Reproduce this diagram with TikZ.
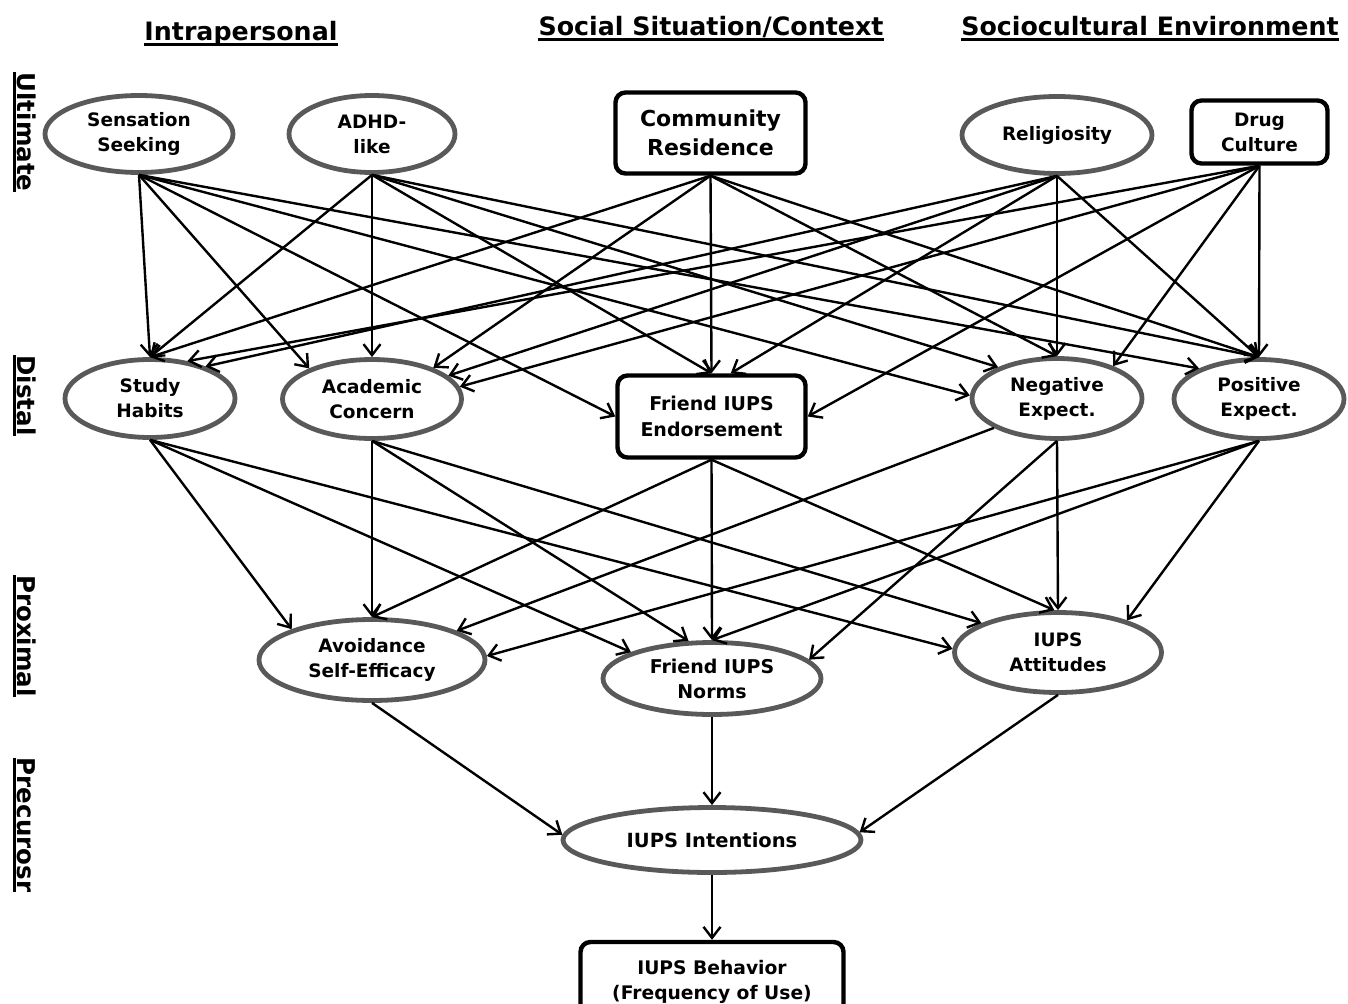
\documentclass[tikz,border=0pt]{standalone}
\usepackage{fontspec}
\setmainfont{DejaVu Sans}
\usetikzlibrary{shapes.geometric,arrows.meta}
\definecolor{ellgray}{RGB}{89,89,89}
\begin{document}
\begin{tikzpicture}[x=1pt,y=-1pt,
  ell/.style={ellipse,draw=ellgray,line width=4.8pt,inner sep=0pt,align=center,
    font=\bfseries\fontsize{18.5}{25}\selectfont},
  box/.style={rectangle,rounded corners=10pt,draw=black,line width=4.4pt,inner sep=0pt,align=center,
    font=\bfseries\fontsize{18.5}{25}\selectfont},
  arr/.style={line width=2.4pt,-{Straight Barb[length=11pt,width=17pt]}},
  head/.style={inner sep=0pt,anchor=base,font=\bfseries\fontsize{25.3}{30}\selectfont},
  side/.style={inner sep=0pt,anchor=base,rotate=-90,font=\bfseries\fontsize{24.5}{30}\selectfont},
  uline/.style={line width=2.8pt}
]
\useasboundingbox (0,0) rectangle (1348,1003);

% headings
\node[head] (h1) at (241,40.5) {Intrapersonal};
\node[head] (h2) at (711,35.5) {Social Situation/Context};
\node[head] (h3) at (1150,35.5) {Sociocultural Environment};
\foreach \h in {h1,h2,h3}
  \draw[uline] ([yshift=-4pt]\h.base west) -- ([yshift=-4pt]\h.base east);

% side labels
\node[side] (l1) at (17.5,132) {Ultimate};
\node[side] (l2) at (17.5,395.5) {Distal};
\node[side] (l3) at (17.5,636) {Proximal};
\node[side] (l4) at (17.5,825) {Precurosr};
\foreach \l in {l1,l2,l3,l4}
  \draw[uline] ([xshift=-3pt]\l.base west) -- ([xshift=-3pt]\l.base east);

% ultimate
\node[ell,minimum width=188pt,minimum height=77pt] (ss) at (139,134) {Sensation\\Seeking};
\node[ell,minimum width=166pt,minimum height=77pt] (adhd) at (372,134) {ADHD-\\like};
\node[box,minimum width=190pt,minimum height=81pt,font=\bfseries\fontsize{22}{29}\selectfont] (com) at (710.5,133) {Community\\Residence};
\node[ell,minimum width=190pt,minimum height=77pt] (rel) at (1057,135) {Religiosity};
\node[box,minimum width=136pt,minimum height=63pt] (drug) at (1259.5,132) {Drug\\Culture};

% distal
\node[ell,minimum width=170pt,minimum height=78pt] (sh) at (150,398.5) {Study\\Habits};
\node[ell,minimum width=179pt,minimum height=79pt] (ac) at (372,399) {Academic\\Concern};
\node[box,minimum width=188pt,minimum height=82pt,font=\bfseries\fontsize{19}{26}\selectfont] (fe) at (711.5,416.5) {Friend IUPS\\Endorsement};
\node[ell,minimum width=170pt,minimum height=80pt] (ne) at (1057,398.5) {Negative\\Expect.};
\node[ell,minimum width=170pt,minimum height=79pt] (pe) at (1259,399) {Positive\\Expect.};

% proximal
\node[ell,minimum width=226pt,minimum height=81pt] (ase) at (372,660) {Avoidance\\Self-Efficacy};
\node[ell,minimum width=218pt,minimum height=72pt,font=\bfseries\fontsize{19}{25}\selectfont] (fn) at (712,678.5) {Friend IUPS\\Norms};
\node[ell,minimum width=207pt,minimum height=80pt] (att) at (1058,652.5) {IUPS\\Attitudes};

% precursor
\node[ell,minimum width=298pt,minimum height=65pt,font=\bfseries\fontsize{19.5}{25}\selectfont] (int) at (712,840) {IUPS Intentions};
\node[box,minimum width=263pt,minimum height=80pt,font=\bfseries\fontsize{18.7}{25}\selectfont] (beh) at (712,982) {IUPS Behavior\\(Frequency of Use)};

% ultimate -> distal
\draw[arr] (ss.south) -- (sh.north);
\draw[arr] (ss.south) -- (ac.154);
\draw[arr] (ss.south) -- (fe.west);
\draw[arr] (ss.south) -- (ne.178);
\draw[arr] (ss.south) -- (pe.153);

\draw[arr] (adhd.south) -- (sh.north);
\draw[arr] (adhd.south) -- (ac.north);
\draw[arr] (adhd.south) -- (fe.north);
\draw[arr] (adhd.south) -- (ne.152);
\draw[arr] (adhd.south) -- (pe.north);

\draw[arr] (com.south) -- (sh.north);
\draw[arr] (com.south) -- (ac.27);
\draw[arr] (com.south) -- (fe.north);
\draw[arr] (com.south) -- (ne.north);
\draw[arr] (com.south) -- (pe.north);

\draw[arr] (rel.south) -- (sh.30);
\draw[arr] (rel.south) -- (ac.17);
\draw[arr] (rel.south) -- (fe.66);
\draw[arr] (rel.south) -- (ne.north);
\draw[arr] (rel.south) -- (pe.north);

\draw[arr] (drug.south) -- (sh.45);
\draw[arr] (drug.south) -- (ac.8);
\draw[arr] (drug.south) -- (fe.east);
\draw[arr] (drug.south) -- (ne.30);
\draw[arr] (drug.south) -- (pe.north);

% distal -> proximal
\draw[arr] (sh.south) -- (ase.159);
\draw[arr] (sh.south) -- (fn.162);
\draw[arr] (sh.south) -- (att.178);

\draw[arr] (ac.south) -- (ase.north);
\draw[arr] (ac.south) -- (fn.122);
\draw[arr] (ac.south) -- (att.159);

\draw[arr] (fe.south) -- (ase.north);
\draw[arr] (fe.south) -- (fn.north);
\draw[arr] (fe.south) -- (att.95);

\draw[arr] (ne.205) -- (ase.19);
\draw[arr] (ne.south) -- (fn.11);
\draw[arr] (ne.south) -- (att.north);

\draw[arr] (pe.south) -- (ase.2);
\draw[arr] (pe.south) -- (fn.north);
\draw[arr] (pe.south) -- (att.25);

% proximal -> precursor
\draw[arr] (ase.south) -- (int.178);
\draw[arr] (fn.south) -- (int.north);
\draw[arr] (att.south) -- (int.3);
\draw[arr] (int.south) -- (beh.north);
\end{tikzpicture}
\end{document}
